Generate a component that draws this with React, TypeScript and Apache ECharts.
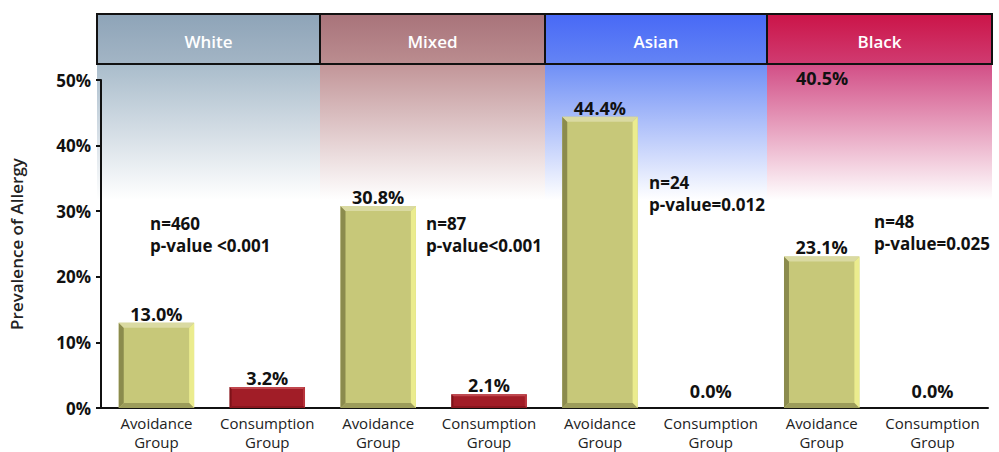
import React, { useEffect, useRef } from "react";
import * as echarts from "echarts";

const ethnicities = ["White", "Mixed", "Asian", "Black"];
const categories = [
  "Avoidance\nGroup", "Consumption\nGroup",
  "Avoidance\nGroup", "Consumption\nGroup",
  "Avoidance\nGroup", "Consumption\nGroup",
  "Avoidance\nGroup", "Consumption\nGroup",
];
const avoidanceValues = [13.0, 30.8, 44.4, 23.1];
const consumptionValues = [3.2, 2.1, 0.0, 0.0];
const nValues = ["n=460", "n=87", "n=24", "n=48"];
const pValues = ["p-value <0.001", "p-value<0.001", "p-value=0.012", "p-value=0.025"];
const strayLabel = "40.5%";
const yTicks = [0, 10, 20, 30, 40, 50];

const FONT = "'Open Sans', 'Noto Sans', sans-serif";

const headerColors = [
  ["#8ea4b8", "#a3b5c5"],
  ["#a8737a", "#bb8d90"],
  ["#4869f6", "#6484f5"],
  ["#cb1448", "#d03b71"],
];
const bandColors = ["#a9bccb", "#c29598", "#6f8ff6", "#d24e86"];
const headerX = [97, 320, 545, 767, 992];
const annotPos = [
  [150, 234],
  [426, 234],
  [649, 193],
  [874, 232],
];

export default function App() {
  const ref = useRef<HTMLDivElement>(null);
  useEffect(() => {
    document.body.style.margin = "0";
    if (!ref.current) return;
    const chart = echarts.init(ref.current, null, { renderer: "svg" });

    const avoidData = avoidanceValues.map((v, i) => [i * 2, v, 0]);
    const consData = consumptionValues.map((v, i) => [i * 2 + 1, v, 1]);

    const renderBar = (params: any, api: any) => {
      const idx = api.value(0);
      const val = api.value(1);
      const kind = api.value(2);
      const top = api.coord([idx, val]);
      const base = api.coord([idx, 0]);
      const w = api.size([1, 0])[0] * 0.68;
      const x0 = top[0] - w / 2;
      const x1 = top[0] + w / 2;
      const y0 = top[1];
      const y1 = base[1];
      const children: any[] = [];
      const h = y1 - y0;
      if (h > 0.5) {
        const b = kind === 0 ? Math.min(5, h / 3) : Math.min(2, h / 3);
        const face = kind === 0 ? "#c7c879" : "#a11d27";
        const left = kind === 0 ? "#8b8b4d" : "#7e1219";
        const right = kind === 0 ? "#ebec8e" : "#b8343c";
        const topC = kind === 0 ? "#dadaa2" : "#c0464d";
        const bot = kind === 0 ? "#9c9c5a" : "#8a161e";
        children.push({ type: "rect", shape: { x: x0, y: y0, width: w, height: h }, style: { fill: face } });
        children.push({ type: "polygon", shape: { points: [[x0, y0], [x0 + b, y0 + b], [x0 + b, y1 - b], [x0, y1]] }, style: { fill: left } });
        children.push({ type: "polygon", shape: { points: [[x1, y0], [x1 - b, y0 + b], [x1 - b, y1 - b], [x1, y1]] }, style: { fill: right } });
        children.push({ type: "polygon", shape: { points: [[x0, y0], [x1, y0], [x1 - b, y0 + b], [x0 + b, y0 + b]] }, style: { fill: topC } });
        children.push({ type: "polygon", shape: { points: [[x0, y1], [x1, y1], [x1 - b, y1 - b], [x0 + b, y1 - b]] }, style: { fill: bot } });
      }
      children.push({
        type: "text",
        x: top[0],
        y: val > 0 ? y0 : y0 - 8,
        style: {
          text: val.toFixed(1) + "%",
          textAlign: "center",
          textVerticalAlign: "bottom",
          fill: "#111",
          font: `bold 18px ${FONT}`,
        },
      });
      return { type: "group", children };
    };

    const graphics: any[] = [];
    ethnicities.forEach((name, i) => {
      const x = headerX[i];
      const w = headerX[i + 1] - x;
      graphics.push({
        type: "rect",
        z: -10,
        shape: { x, y: 64, width: w, height: 136 },
        style: {
          fill: new echarts.graphic.LinearGradient(0, 0, 0, 1, [
            { offset: 0, color: bandColors[i] },
            { offset: 1, color: "rgba(255,255,255,1)" },
          ]),
        },
      });
      graphics.push({
        type: "rect",
        shape: { x, y: 14, width: w, height: 50 },
        style: {
          fill: new echarts.graphic.LinearGradient(0, 0, 0, 1, [
            { offset: 0, color: headerColors[i][0] },
            { offset: 1, color: headerColors[i][1] },
          ]),
          stroke: "#111",
          lineWidth: 2,
        },
      });
      graphics.push({
        type: "text",
        x: x + w / 2,
        y: 41,
        style: {
          text: name,
          textAlign: "center",
          textVerticalAlign: "middle",
          fill: "#ffffff",
          font: `600 17px ${FONT}`,
        },
      });
      graphics.push({
        type: "text",
        x: annotPos[i][0],
        y: annotPos[i][1],
        style: {
          text: nValues[i] + "\n" + pValues[i],
          textAlign: "left",
          textVerticalAlign: "middle",
          lineHeight: 22,
          fill: "#111",
          font: `bold 17px ${FONT}`,
        },
      });
    });
    graphics.push({
      type: "text",
      x: 796,
      y: 78,
      style: {
        text: strayLabel,
        textAlign: "left",
        textVerticalAlign: "middle",
        fill: "#111",
        font: `bold 18px ${FONT}`,
      },
    });

    chart.setOption({
      animation: false,
      backgroundColor: "#ffffff",
      grid: { left: 98, right: 11, top: 80, bottom: 44, containLabel: false },
      graphic: { elements: graphics },
      xAxis: {
        type: "category",
        data: categories,
        axisLine: { lineStyle: { color: "#111", width: 2 } },
        axisTick: { alignWithLabel: true, length: 6, lineStyle: { color: "#111", width: 2 } },
        axisLabel: {
          interval: 0,
          color: "#222",
          fontFamily: FONT,
          fontSize: 15,
          lineHeight: 19,
          margin: 5,
        },
      },
      yAxis: {
        type: "value",
        min: yTicks[0],
        max: yTicks[yTicks.length - 1],
        interval: 10,
        name: "Prevalence of Allergy",
        nameLocation: "middle",
        nameGap: 76,
        nameTextStyle: { color: "#222", fontFamily: FONT, fontSize: 17, fontWeight: 600 },
        axisLine: { show: true, lineStyle: { color: "#111", width: 2 } },
        axisTick: { show: true, length: 5, lineStyle: { color: "#111", width: 2 } },
        splitLine: { show: false },
        axisLabel: {
          formatter: "{value}%",
          color: "#111",
          fontFamily: FONT,
          fontSize: 17,
          fontWeight: "bold",
          margin: 10,
        },
      },
      series: [
        { type: "custom", name: "Avoidance", renderItem: renderBar, data: avoidData, encode: { x: 0, y: 1 }, z: 5 },
        { type: "custom", name: "Consumption", renderItem: renderBar, data: consData, encode: { x: 0, y: 1 }, z: 5 },
      ],
    });
    return () => chart.dispose();
  }, []);
  return <div ref={ref} style={{ width: 999, height: 452 }} />;
}
